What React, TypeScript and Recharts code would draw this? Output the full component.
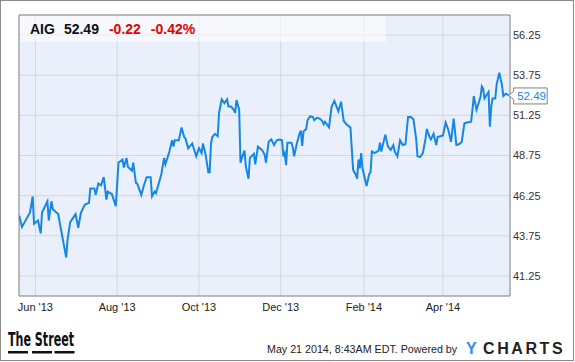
import { LineChart, Line, XAxis, YAxis, CartesianGrid, ReferenceArea, ReferenceDot } from "recharts";

// calendar days counted from 1 Jun 2013
const days = [
  -12, -10, -8, -4, -2, -1, 2, 4, 5, 9, 10, 12, 13, 17, 23, 24, 26, 30, 32, 34,
  37, 40, 41, 44, 45, 47, 49, 51, 53, 54, 57, 60, 62, 65, 66, 68, 69, 72, 73, 75,
  76, 79, 81, 83, 86, 87, 89, 90, 94, 96, 97, 100, 102, 103, 104, 107, 109, 111, 112, 114,
  117, 120, 122, 124, 125, 127, 129, 130, 131, 132, 134, 136, 137, 139, 141, 143, 144, 146, 148, 149,
  150, 152, 153, 154, 156, 157, 159, 160, 163, 164, 166, 169, 171, 172, 174, 176, 178, 180, 182, 184,
  185, 186, 187, 188, 191, 192, 193, 195, 197, 198, 199, 200, 202, 203, 205, 207, 208, 210, 212, 214,
  215, 216, 219, 221, 223, 226, 228, 230, 232, 235, 237, 239, 240, 241, 242, 243, 244, 247, 249, 250,
  251, 253, 256, 257, 258, 261, 263, 265, 267, 268, 270, 272, 274, 276, 278, 280, 282, 284, 285, 287,
  289, 291, 292, 294, 295, 297, 299, 300, 302, 304, 306, 308, 310, 312, 314, 316, 318, 320, 322, 325,
  326, 327, 329, 330, 332, 333, 334, 335, 338, 339, 340, 341, 343, 344, 346, 348, 349, 351, 352, 353,
];

const closes = [
  45.0, 44.3, 44.6, 45.2, 46.2, 44.5, 44.7, 43.9, 45.2, 45.9, 44.7, 45.9, 45.4, 45.1, 42.4, 43.5, 44.6, 45.1, 44.25, 45.2,
  45.7, 45.8, 46.7, 46.7, 46.3, 47.0, 46.9, 47.4, 46.0, 46.5, 46.35, 45.6, 48.3, 48.5, 48.0, 48.6, 48.05, 47.8, 48.3, 47.05,
  47.0, 46.3, 46.9, 47.4, 47.4, 46.2, 46.5, 46.4, 47.6, 48.6, 48.2, 49.0, 49.7, 49.3, 49.7, 49.7, 50.5, 49.9, 49.8, 49.2,
  49.5, 48.7, 49.2, 48.9, 49.5, 48.8, 47.7, 47.7, 49.5, 49.9, 50.1, 49.95, 51.4, 52.25, 52.0, 52.25, 51.8, 51.8, 51.6, 51.4,
  52.2, 51.6, 48.3, 48.6, 49.05, 48.05, 47.3, 48.6, 48.85, 48.2, 49.3, 49.1, 48.8, 48.3, 49.6, 49.75, 49.4, 49.7, 49.75, 49.7,
  48.7, 48.9, 48.15, 49.55, 49.55, 49.25, 48.7, 49.5, 50.1, 50.3, 49.35, 50.25, 50.4, 50.95, 51.2, 51.15, 50.95, 51.1, 51.05, 50.9,
  50.7, 50.85, 50.5, 51.8, 52.15, 51.5, 52.1, 50.9, 50.7, 50.5, 47.85, 47.55, 47.3, 48.5, 47.95, 48.9, 47.95, 46.85, 47.6, 47.7,
  49.0, 48.9, 49.05, 49.55, 49.0, 50.05, 49.3, 49.1, 49.4, 49.0, 48.7, 49.7, 49.4, 49.45, 51.15, 51.15, 51.0, 49.8, 48.7, 48.65,
  48.9, 49.8, 50.4, 49.9, 49.75, 50.1, 49.4, 49.9, 49.95, 50.0, 50.8, 50.35, 49.6, 51.05, 49.4, 49.45, 49.6, 50.75, 50.8, 50.85,
  51.6, 52.45, 51.6, 51.85, 52.4, 53.05, 52.9, 52.3, 52.7, 50.55, 51.8, 52.3, 52.3, 53.15, 53.9, 53.15, 52.45, 52.6, 52.55, 52.49,
];

const tickDays = [0, 61, 122, 183, 245, 304];
const tickLabels = ["Jun '13", "Aug '13", "Oct '13", "Dec '13", "Feb '14", "Apr '14"];
const priceTicks = [41.25, 43.75, 46.25, 48.75, 51.25, 53.75, 56.25];

const data = days.map((d, i) => ({ day: d, close: closes[i] }));
const last = data[data.length - 1];

const font = "'Liberation Sans', Arial, sans-serif";
const lineColor = "#1487e6";

function PriceTag({ cx, cy }: { cx?: number; cy?: number }) {
  if (cx == null || cy == null) return null;
  const l = cx + 5;
  const r = cx + 38.5;
  return (
    <g>
      <path
        d={`M${cx},${cy} L${l},${cy - 4} L${l},${cy - 7.5} L${r},${cy - 7.5} L${r},${cy + 8.5} L${l},${cy + 8.5} L${l},${cy + 4} Z`}
        fill="#fff"
        stroke="#808080"
      />
      <text x={cx + 8.5} y={cy + 4.6} fill={lineColor} fontSize={11.5}>
        {last.close.toFixed(2)}
      </text>
    </g>
  );
}

export default function App() {
  return (
    <div style={{ position: "absolute", left: 0, top: 0, width: 575, height: 362, background: "#fff", fontFamily: font }}>
      <LineChart width={575} height={362} data={data} margin={{ top: 15, right: 0, bottom: 0, left: 19 }}>
        <CartesianGrid stroke="#d6d6d6" fill="#eaf0fb" fillOpacity={1} />
        <XAxis
          dataKey="day"
          type="number"
          domain={[-12.2, 354]}
          ticks={tickDays}
          tickFormatter={(d) => tickLabels[tickDays.indexOf(d)]}
          axisLine={false}
          tickLine={false}
          tickSize={0}
          tickMargin={7}
          height={66}
          tick={{ fontSize: 11, fill: "#222" }}
          allowDataOverflow
        />
        <YAxis
          orientation="right"
          domain={[40, 57.5]}
          ticks={priceTicks}
          tickFormatter={(v) => v.toFixed(2)}
          width={65}
          axisLine={false}
          tickLine={false}
          tickSize={0}
          tickMargin={3}
          tick={{ fontSize: 11, fill: "#333" }}
          allowDataOverflow
        />
        <ReferenceArea x1={-12.2} x2={354} y1={40} y2={57.5} fill="none" stroke="#8c8c8c" ifOverflow="visible" />
        <Line type="linear" dataKey="close" stroke={lineColor} strokeWidth={2} dot={false} isAnimationActive={false} />
        <ReferenceDot x={last.day} y={last.close} shape={PriceTag} ifOverflow="visible" />
      </LineChart>

      <div
        style={{
          position: "absolute",
          left: 20,
          top: 16,
          width: 366,
          height: 26,
          background: "rgba(255,255,255,0.55)",
          display: "flex",
          alignItems: "center",
          paddingLeft: 10,
          boxSizing: "border-box",
          fontSize: 14,
          fontWeight: "bold",
          whiteSpace: "pre",
        }}
      >
        <span style={{ color: "#111", marginRight: 9 }}>AIG</span>
        <span style={{ color: "#111", marginRight: 10 }}>52.49</span>
        <span style={{ color: "#e60000", marginRight: 10 }}>-0.22</span>
        <span style={{ color: "#e60000" }}>-0.42%</span>
      </div>

      <svg width={575} height={362} style={{ position: "absolute", left: 0, top: 0, pointerEvents: "none" }}>
        <text
          x={8}
          y={346}
          fontSize={19}
          fontWeight="bold"
          fontFamily="'Liberation Sans Narrow', 'DejaVu Sans Condensed', Arial, sans-serif"
          fill="#111"
          textLength={66}
          lengthAdjust="spacingAndGlyphs"
        >
          The Street
        </text>
        <rect x={8} y={351} width={20} height={2.5} fill="#111" />
        <rect x={32} y={351} width={20} height={2.5} fill="#111" />
        <rect x={54.5} y={351} width={20} height={2.5} fill="#111" />
        <text x={267} y={353} fontSize={10.7} fill="#222">
          May 21 2014, 8:43AM EDT. Powered by
        </text>
        <text x={466} y={353.5} fontSize={16} fontWeight="bold" fill="#2f8fe8">
          Y
        </text>
        <text x={483} y={353.5} fontSize={16} fontWeight="bold" fill="#222" letterSpacing={2.6}>
          CHARTS
        </text>
      </svg>

      <div
        style={{
          position: "absolute",
          left: 0,
          top: 0,
          width: 574,
          height: 361,
          border: "1px solid #8a8a8a",
          boxSizing: "border-box",
          pointerEvents: "none",
        }}
      />
    </div>
  );
}
